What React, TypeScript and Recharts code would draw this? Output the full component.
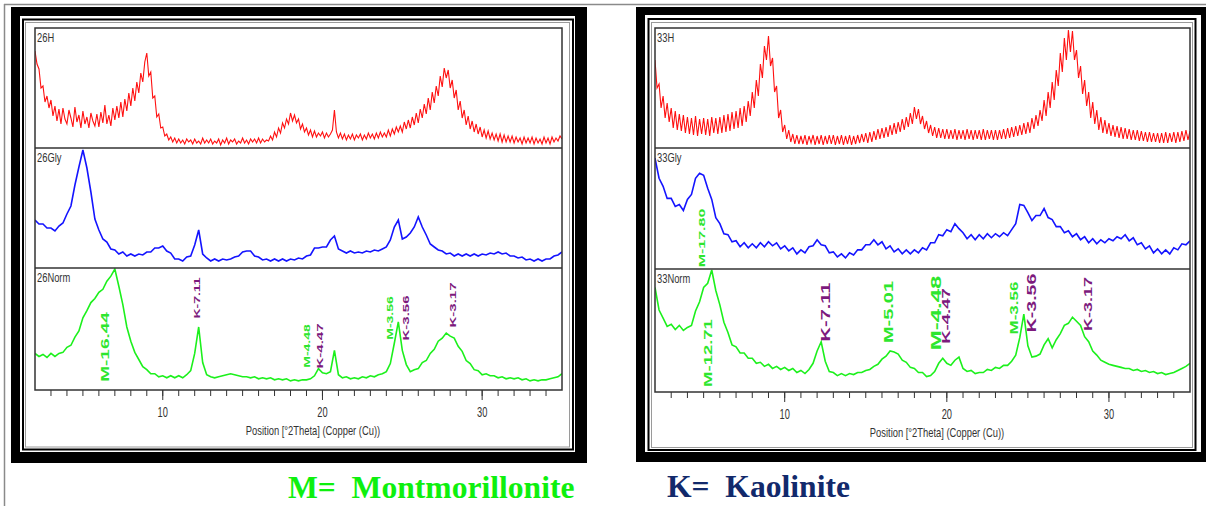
import React from 'react';
import { LineChart, Line, XAxis, YAxis } from 'recharts';

// 2theta grid: first point and spacing of the traces below
const START = 2;
const STEP_H = 0.125; // red (air-dried) scans, one row = one degree
const STEP = 0.25; // glycolated and normal scans
const X_DOMAIN: [number, number] = [2, 35];
const AXIS_TICKS = [3, 4, 5, 6, 7, 8, 9, 10, 11, 12, 13, 14, 15, 16, 17, 18, 19, 20, 21, 22, 23, 24, 25, 26, 27, 28, 29, 30, 31, 32, 33, 34];
const Y_TICKS = [40, 80];

// sample 26
const h26 = [
  97, 84, 79, 60, 62, 46, 52, 40,
  48, 32, 42, 27, 39, 24, 40, 29,
  24, 38, 30, 21, 41, 26, 33, 20,
  37, 24, 31, 20, 35, 27, 22, 34,
  21, 36, 25, 43, 24, 33, 22, 40,
  28, 42, 30, 46, 31, 49, 37, 55,
  42, 60, 47, 66, 55, 75, 66, 86,
  95, 72, 76, 50, 52, 31, 34, 20,
  21, 12, 14, 8, 11, 6, 10, 5,
  9, 5, 8, 4, 9, 6, 8, 4,
  9, 5, 7, 4, 10, 5, 8, 5,
  9, 4, 7, 5, 9, 3, 8, 5,
  10, 4, 8, 6, 9, 4, 7, 5,
  10, 5, 8, 4, 9, 6, 9, 5,
  10, 5, 9, 6, 8, 7, 12, 8,
  16, 11, 20, 15, 25, 20, 29, 24,
  35, 27, 33, 25, 29, 19, 24, 16,
  20, 13, 18, 11, 17, 11, 15, 12,
  16, 10, 15, 11, 14, 18, 38, 16,
  10, 15, 9, 14, 8, 13, 9, 14,
  8, 13, 10, 14, 8, 13, 9, 15,
  10, 14, 9, 15, 10, 16, 11, 15,
  11, 18, 12, 19, 14, 21, 16, 22,
  16, 26, 19, 28, 20, 31, 23, 35,
  25, 39, 30, 44, 34, 50, 38, 56,
  45, 62, 52, 72, 61, 80, 70, 78,
  60, 68, 50, 58, 38, 47, 30, 38,
  23, 32, 19, 27, 16, 24, 14, 21,
  11, 18, 10, 17, 9, 15, 8, 14,
  7, 14, 6, 13, 6, 12, 6, 12,
  5, 11, 6, 10, 4, 11, 5, 10,
  5, 11, 4, 10, 5, 9, 4, 11,
  5, 10, 4, 11, 6, 10, 7, 12,
  9,
];
const gly26 = [
  48, 44, 44, 40, 40, 37, 42, 45, 54, 62, 83, 101, 118, 100, 76, 49, 38, 29, 26, 19,
  18, 14, 16, 12, 14, 12, 14, 13, 16, 16, 20, 20, 22, 17, 15, 9, 9, 7, 11, 12,
  23, 38, 14, 10, 7, 9, 7, 9, 8, 9, 11, 12, 16, 17, 17, 12, 11, 8, 9, 7,
  9, 7, 9, 7, 9, 8, 10, 9, 12, 13, 20, 20, 21, 21, 28, 32, 19, 17, 15, 17,
  15, 16, 15, 17, 16, 18, 17, 19, 21, 28, 41, 48, 29, 31, 35, 41, 51, 41, 33, 24,
  21, 18, 17, 14, 15, 12, 14, 12, 14, 12, 14, 12, 14, 13, 15, 14, 16, 14, 15, 12,
  12, 10, 11, 8, 9, 7, 9, 7, 9, 9, 12, 13, 16,
];
const norm26 = [
  36, 33, 35, 32, 36, 33, 36, 37, 42, 44, 52, 58, 71, 78, 86, 90, 96, 99, 107, 112,
  119, 102, 84, 62, 48, 37, 30, 23, 20, 16, 16, 13, 14, 12, 14, 12, 14, 12, 15, 19,
  36, 62, 27, 15, 13, 12, 13, 14, 15, 16, 15, 14, 13, 13, 12, 13, 11, 12, 11, 12,
  10, 11, 10, 11, 9, 10, 9, 10, 10, 11, 14, 21, 17, 16, 18, 39, 15, 12, 13, 11,
  12, 11, 13, 12, 14, 13, 15, 16, 18, 26, 46, 67, 39, 25, 18, 20, 21, 27, 29, 36,
  40, 48, 51, 56, 53, 51, 43, 38, 29, 26, 20, 19, 15, 16, 14, 14, 12, 13, 11, 12,
  11, 12, 10, 11, 9, 10, 9, 10, 10, 11, 12, 13, 16,
];

// sample 33
const h33 = [
  88, 60, 64, 40, 52, 30, 45, 26,
  40, 20, 37, 18, 34, 17, 33, 15,
  31, 14, 30, 13, 32, 12, 29, 14,
  30, 13, 29, 12, 31, 15, 30, 14,
  31, 15, 33, 16, 34, 17, 36, 19,
  37, 20, 40, 22, 42, 26, 47, 32,
  56, 40, 68, 52, 84, 70, 102, 88,
  112, 82, 90, 56, 62, 30, 38, 16,
  23, 9, 18, 6, 14, 4, 13, 4,
  12, 4, 13, 3, 12, 5, 13, 3,
  12, 4, 13, 3, 12, 4, 13, 4,
  13, 3, 12, 4, 13, 3, 12, 4,
  13, 3, 12, 4, 13, 5, 14, 6,
  15, 5, 16, 6, 17, 8, 19, 9,
  20, 10, 21, 11, 23, 13, 25, 14,
  26, 16, 29, 18, 31, 21, 35, 24,
  41, 29, 39, 24, 32, 19, 27, 15,
  23, 12, 21, 10, 20, 10, 19, 9,
  19, 9, 18, 9, 19, 8, 18, 9,
  18, 8, 19, 9, 18, 8, 18, 9,
  18, 8, 19, 8, 18, 9, 18, 8,
  18, 8, 18, 9, 19, 9, 20, 10,
  21, 11, 22, 12, 23, 13, 25, 14,
  26, 15, 30, 19, 33, 22, 38, 27,
  48, 32, 56, 40, 66, 48, 78, 62,
  95, 76, 110, 88, 118, 96, 117, 88,
  98, 70, 82, 54, 68, 42, 56, 30,
  46, 24, 38, 18, 31, 15, 28, 14,
  25, 12, 23, 11, 22, 10, 21, 9,
  20, 9, 19, 8, 18, 8, 18, 7,
  17, 7, 16, 6, 16, 6, 15, 6,
  15, 5, 15, 5, 16, 5, 15, 6,
  16, 5, 16, 6, 17, 7, 18, 8,
  17,
];
const gly33 = [
  110, 90, 82, 70, 70, 62, 64, 58, 69, 74, 90, 95, 93, 80, 69, 51, 45, 35, 34, 27,
  28, 22, 26, 21, 25, 21, 26, 22, 27, 23, 26, 20, 23, 18, 21, 15, 19, 16, 22, 23,
  29, 24, 23, 16, 17, 12, 15, 11, 16, 14, 19, 19, 24, 24, 29, 24, 27, 20, 23, 17,
  20, 15, 19, 15, 19, 16, 21, 19, 26, 26, 34, 33, 39, 37, 45, 40, 36, 30, 34, 29,
  34, 30, 35, 31, 35, 32, 36, 33, 39, 45, 64, 63, 56, 48, 53, 53, 60, 51, 49, 42,
  42, 36, 38, 32, 35, 29, 32, 26, 30, 25, 29, 26, 30, 28, 32, 30, 34, 28, 31, 24,
  26, 20, 23, 16, 20, 15, 19, 15, 21, 19, 25, 24, 28,
];
const norm33 = [
  102, 80, 72, 64, 66, 61, 65, 60, 63, 65, 79, 88, 102, 106, 119, 99, 85, 68, 58, 46,
  44, 38, 38, 33, 33, 28, 29, 25, 27, 23, 25, 22, 24, 21, 23, 19, 21, 18, 22, 28,
  40, 49, 30, 20, 19, 16, 18, 16, 18, 17, 19, 19, 21, 22, 25, 27, 32, 35, 40, 39,
  37, 31, 29, 24, 23, 19, 19, 15, 16, 20, 28, 33, 28, 26, 31, 34, 23, 20, 21, 18,
  19, 19, 22, 21, 24, 23, 26, 26, 30, 36, 53, 76, 45, 34, 35, 37, 46, 52, 43, 51,
  57, 65, 67, 73, 69, 65, 54, 49, 40, 36, 31, 29, 27, 26, 25, 24, 23, 23, 21, 22,
  20, 21, 19, 20, 18, 19, 17, 18, 19, 21, 23, 25, 28,
];

const RED = '#ff1010';
const BLUE = '#1414ff';
const GREEN = '#1cf01c';
const LABEL_GREEN = '#2ee62e';
const PURPLE = '#7d1a7d';

const leftNames = ['26H', '26Gly', '26Norm'];
const rightNames = ['33H', '33Gly', '33Norm'];

const leftPeaks = [
  { text: 'M-16.44', x: 105, y: 347, size: 19, color: LABEL_GREEN },
  { text: 'K-7.11', x: 197, y: 298, size: 14, color: PURPLE },
  { text: 'M-4.48', x: 307, y: 346, size: 14, color: LABEL_GREEN },
  { text: 'K-4.47', x: 320, y: 346, size: 15, color: PURPLE },
  { text: 'M-3.56', x: 390, y: 318, size: 14, color: LABEL_GREEN },
  { text: 'K-3.56', x: 406, y: 318, size: 15, color: PURPLE },
  { text: 'K-3.17', x: 453, y: 305, size: 15, color: PURPLE },
];
const rightPeaks = [
  { text: 'M-17.80', x: 702, y: 238, size: 16, color: LABEL_GREEN },
  { text: 'M-12.71', x: 708, y: 353, size: 18.5, color: LABEL_GREEN },
  { text: 'K-7.11', x: 826, y: 312, size: 20, color: PURPLE },
  { text: 'M-5.01', x: 889, y: 312, size: 20, color: LABEL_GREEN },
  { text: 'M-4.48', x: 936, y: 313, size: 24, color: LABEL_GREEN },
  { text: 'K-4.47', x: 946, y: 316, size: 18.5, color: PURPLE },
  { text: 'M-3.56', x: 1014, y: 308, size: 17, color: LABEL_GREEN },
  { text: 'K-3.56', x: 1032, y: 303, size: 19.5, color: PURPLE },
  { text: 'K-3.17', x: 1088, y: 304, size: 18, color: PURPLE },
];

const SANS = '"Liberation Sans", Arial, sans-serif';
const SERIF = '"Liberation Serif", "Times New Roman", serif';

function toRows(values: number[], step: number) {
  return values.map((v, i) => ({ t: START + i * step, v }));
}

const AxisTick = (props: any) => {
  const { x, y, payload } = props;
  if (payload.value % 10 !== 0) return <g />;
  return (
    <g>
      <line x1={x} x2={x} y1={y - 6} y2={y + 4} stroke="#333" strokeWidth={1} />
      <text
        transform={`translate(${x},${y + 21}) scale(0.62,1)`}
        textAnchor="middle"
        fontSize={15}
        fontFamily={SANS}
        fill="#333"
      >
        {payload.value}
      </text>
    </g>
  );
};

function Band({ values, step, color, lineWidth, width, height, withAxis }: { values: number[]; step: number; color: string; lineWidth: number; width: number; height: number; withAxis?: boolean }) {
  const axisH = 30;
  return (
    <LineChart
      width={width}
      height={withAxis ? height + axisH : height}
      data={toRows(values, step)}
      margin={{ top: 0, right: 0, bottom: 0, left: 0 }}
    >
      <XAxis
        type="number"
        dataKey="t"
        domain={X_DOMAIN}
        allowDataOverflow
        hide={!withAxis}
        height={axisH}
        ticks={AXIS_TICKS}
        interval={0}
        axisLine={false}
        tickLine={{ stroke: '#333' }}
        tickSize={6}
        tickMargin={0}
        tick={(p: any) => <AxisTick {...p} />}
      />
      <YAxis
        domain={[0, 120]}
        allowDataOverflow
        ticks={Y_TICKS}
        width={0}
        mirror
        axisLine={false}
        tickLine={{ stroke: '#888' }}
        tickSize={3}
        tickFormatter={() => ''}
      />
      <Line
        type="linear"
        dataKey="v"
        stroke={color}
        strokeWidth={lineWidth}
        dot={false}
        isAnimationActive={false}
      />
    </LineChart>
  );
}

function Panel({ left, top, width, bands, series, names }: { left: number; top: number; width: number; bands: number[]; series: number[][]; names: string[] }) {
  const colors = [RED, BLUE, GREEN];
  const steps = [STEP_H, STEP, STEP];
  const widths = [1.1, 1.6, 1.6];
  return (
    <>
      {series.map((values, i) => (
        <div key={names[i]} style={{ position: 'absolute', left, top: top + bands.slice(0, i).reduce((a, b) => a + b, 0) }}>
          <Band values={values} step={steps[i]} color={colors[i]} lineWidth={widths[i]} width={width} height={bands[i]} withAxis={i === 2} />
        </div>
      ))}
    </>
  );
}

function PeakText({ p }: { p: { text: string; x: number; y: number; size: number; color: string } }) {
  return (
    <text
      transform={`translate(${p.x},${p.y}) scale(0.62,1) rotate(-90)`}
      textAnchor="middle"
      dominantBaseline="central"
      fontSize={p.size}
      fontWeight="bold"
      fontFamily={SANS}
      fill={p.color}
    >
      {p.text}
    </text>
  );
}

export default function App() {
  const leftBands = [120, 120, 122];
  const rightBands = [120, 121, 123];
  const leftTops = [28, 148, 268];
  const rightTops = [28, 148, 269];
  return (
    <div style={{ position: 'absolute', left: 0, top: 0, width: 1206, height: 506, background: '#fff', overflow: 'hidden' }}>
      <svg width={1206} height={506} style={{ position: 'absolute', left: 0, top: 0 }}>
        <line x1={4.5} y1={4} x2={4.5} y2={506} stroke="#8a8a8a" strokeWidth={1.5} />
        <line x1={4} y1={4.5} x2={1206} y2={4.5} stroke="#8a8a8a" strokeWidth={1.5} />
        {/* left frame */}
        <rect x={11} y={7} width={576} height={456} fill="#000" />
        <rect x={20} y={16} width={555} height={436} fill="#fff" />
        <rect x={23} y={19.5} width={550} height={430} fill="none" stroke="#000" strokeWidth={2} />
        <rect x={25.5} y={22.5} width={544} height={424.5} fill="none" stroke="#9a9a9a" strokeWidth={1} />
        {/* right frame */}
        <rect x={636} y={7} width={600} height={455} fill="#000" />
        <rect x={645} y={15} width={556} height={437} fill="#fff" />
        <rect x={648.5} y={19} width={547} height={431} fill="none" stroke="#000" strokeWidth={2} />
        <rect x={651.5} y={22.5} width={541} height={425} fill="none" stroke="#9a9a9a" strokeWidth={1} />
      </svg>

      <Panel left={35} top={28} width={527} bands={leftBands} series={[h26, gly26, norm26]} names={leftNames} />
      <Panel left={655} top={28} width={535} bands={rightBands} series={[h33, gly33, norm33]} names={rightNames} />

      <svg width={1206} height={506} style={{ position: 'absolute', left: 0, top: 0, pointerEvents: 'none' }}>
        <rect x={35} y={28} width={527} height={362} fill="none" stroke="#333" strokeWidth={1.5} />
        <rect x={655} y={28} width={535} height={364} fill="none" stroke="#333" strokeWidth={1.5} />
        <line x1={35} x2={562} y1={148} y2={148} stroke="#333" strokeWidth={1.5} />
        <line x1={35} x2={562} y1={268} y2={268} stroke="#333" strokeWidth={1.5} />
        <line x1={655} x2={1190} y1={148} y2={148} stroke="#333" strokeWidth={1.5} />
        <line x1={655} x2={1190} y1={269} y2={269} stroke="#333" strokeWidth={1.5} />

        {leftNames.map((n, i) => (
          <text key={n} transform={`translate(37,${leftTops[i] + 14}) scale(0.72,1)`} fontSize={13} fontFamily={SANS} fill="#333">{n}</text>
        ))}
        {rightNames.map((n, i) => (
          <text key={n} transform={`translate(657,${rightTops[i] + 14}) scale(0.72,1)`} fontSize={13} fontFamily={SANS} fill="#333">{n}</text>
        ))}

        {leftPeaks.map((p) => <PeakText key={p.text + p.x} p={p} />)}
        {rightPeaks.map((p) => <PeakText key={p.text + p.x} p={p} />)}

        <text transform="translate(313,435) scale(0.75,1)" textAnchor="middle" fontSize={12.5} fontFamily={SANS} fill="#333">Position [°2Theta] (Copper (Cu))</text>
        <text transform="translate(937,437) scale(0.75,1)" textAnchor="middle" fontSize={12.5} fontFamily={SANS} fill="#333">Position [°2Theta] (Copper (Cu))</text>

        <text x={288} y={498} fontSize={31.6} fontWeight="bold" fontFamily={SERIF} fill="#0ef00e" xmlSpace="preserve" style={{ whiteSpace: 'pre' }}>M=  Montmorillonite</text>
        <text x={667} y={497} fontSize={31.6} fontWeight="bold" fontFamily={SERIF} fill="#12296b" xmlSpace="preserve" style={{ whiteSpace: 'pre' }}>K=  Kaolinite</text>
      </svg>
    </div>
  );
}
